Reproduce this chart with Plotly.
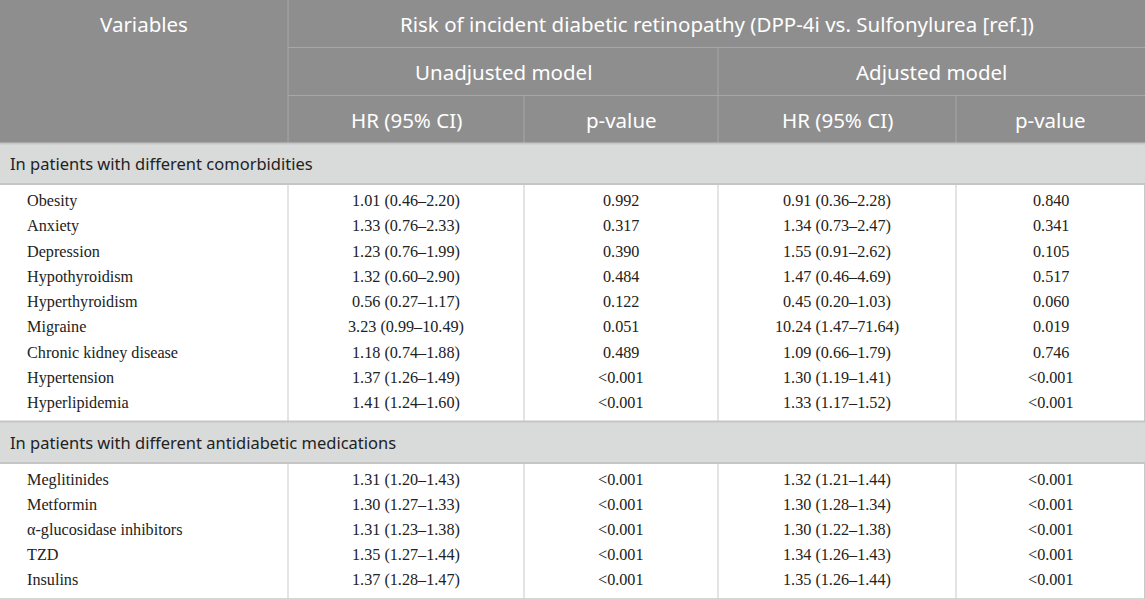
import plotly.graph_objects as go

# ---- table content ----
var_head = "Variables"
title_main = "Risk of incident diabetic retinopathy (DPP-4i vs. Sulfonylurea [ref.])"
models = ["Unadjusted model", "Adjusted model"]
col_heads = ["HR (95% CI)", "p-value", "HR (95% CI)", "p-value"]

sections = ["In patients with different comorbidities",
            "In patients with different antidiabetic medications"]

comorb = ["Obesity", "Anxiety", "Depression", "Hypothyroidism", "Hyperthyroidism",
          "Migraine", "Chronic kidney disease", "Hypertension", "Hyperlipidemia"]
comorb_hr_unadj = ["1.01 (0.46–2.20)", "1.33 (0.76–2.33)", "1.23 (0.76–1.99)",
                   "1.32 (0.60–2.90)", "0.56 (0.27–1.17)", "3.23 (0.99–10.49)",
                   "1.18 (0.74–1.88)", "1.37 (1.26–1.49)", "1.41 (1.24–1.60)"]
comorb_p_unadj = ["0.992", "0.317", "0.390", "0.484", "0.122", "0.051",
                  "0.489", "<0.001", "<0.001"]
comorb_hr_adj = ["0.91 (0.36–2.28)", "1.34 (0.73–2.47)", "1.55 (0.91–2.62)",
                 "1.47 (0.46–4.69)", "0.45 (0.20–1.03)", "10.24 (1.47–71.64)",
                 "1.09 (0.66–1.79)", "1.30 (1.19–1.41)", "1.33 (1.17–1.52)"]
comorb_p_adj = ["0.840", "0.341", "0.105", "0.517", "0.060", "0.019",
                "0.746", "<0.001", "<0.001"]

meds = ["Meglitinides", "Metformin", "α-glucosidase inhibitors", "TZD", "Insulins"]
meds_hr_unadj = ["1.31 (1.20–1.43)", "1.30 (1.27–1.33)", "1.31 (1.23–1.38)",
                 "1.35 (1.27–1.44)", "1.37 (1.28–1.47)"]
meds_p_unadj = ["<0.001", "<0.001", "<0.001", "<0.001", "<0.001"]
meds_hr_adj = ["1.32 (1.21–1.44)", "1.30 (1.28–1.34)", "1.30 (1.22–1.38)",
               "1.34 (1.26–1.43)", "1.35 (1.26–1.44)"]
meds_p_adj = ["<0.001", "<0.001", "<0.001", "<0.001", "<0.001"]

# ---- layout geometry (pixels) ----
W, H = 1145, 600
col_x = [0, 288, 524, 718, 956, 1145]
hdr_y = [0, 47.5, 95.5, 143.5]
blocks = [
    # section band top, band bottom, first row centre, row step, block bottom
    dict(top=143.5, band=184, first=201, step=25.25, bottom=421.5),
    dict(top=421.5, band=463, first=480, step=25.1, bottom=599),
]

HEAD_BG = "#8e8e8e"
HEAD_LINE = "#a7a7a7"
SEC_BG = "#d9dbda"
SEC_LINE = "#c5c5c5"
GRID = "#c9c9c9"
TXT = "#222222"

HF, HSIZE = "Noto Sans", 20.5   # header font
SF, SSIZE = "Noto Sans", 16.5   # section band font
DF, DSIZE = "Liberation Serif", 16.2  # body font

shapes = []
ann = []


def line(x0, y0, x1, y1, color, width=1):
    shapes.append(dict(type="line", x0=x0, y0=y0, x1=x1, y1=y1,
                       line=dict(color=color, width=width), layer="above"))


def text(x, y, s, font, size, color, anchor="center"):
    ann.append(dict(x=x, y=y, text=s, showarrow=False, xanchor=anchor,
                    yanchor="middle", font=dict(family=font, size=size, color=color)))


# header block
shapes.append(dict(type="rect", x0=0, y0=hdr_y[0], x1=W, y1=hdr_y[3],
                   fillcolor=HEAD_BG, line=dict(width=0), layer="below"))
line(col_x[1], hdr_y[0], col_x[1], hdr_y[3], HEAD_LINE)
line(col_x[1], hdr_y[1], W, hdr_y[1], HEAD_LINE)
line(col_x[1], hdr_y[2], W, hdr_y[2], HEAD_LINE)
line(col_x[3], hdr_y[1], col_x[3], hdr_y[3], HEAD_LINE)
for cx in (col_x[2], col_x[4]):
    line(cx, hdr_y[2], cx, hdr_y[3], HEAD_LINE)

row1 = (hdr_y[0] + hdr_y[1]) / 2
row2 = (hdr_y[1] + hdr_y[2]) / 2
row3 = (hdr_y[2] + hdr_y[3]) / 2
text(col_x[1] / 2, row1, var_head, HF, HSIZE, "white")
text((col_x[1] + W) / 2, row1, title_main, HF, HSIZE, "white")
text((col_x[1] + col_x[3]) / 2, row2, models[0], HF, HSIZE, "white")
text((col_x[3] + W) / 2, row2, models[1], HF, HSIZE, "white")
for i, h in enumerate(col_heads):
    text((col_x[i + 1] + col_x[i + 2]) / 2, row3, h, HF, HSIZE, "white")

# body blocks
body = [
    (sections[0], comorb, [comorb_hr_unadj, comorb_p_unadj, comorb_hr_adj, comorb_p_adj]),
    (sections[1], meds, [meds_hr_unadj, meds_p_unadj, meds_hr_adj, meds_p_adj]),
]
for blk, (sec, names, cols) in zip(blocks, body):
    shapes.append(dict(type="rect", x0=0, y0=blk["top"], x1=W, y1=blk["band"],
                       fillcolor=SEC_BG, line=dict(width=0), layer="below"))
    line(0, blk["top"], W, blk["top"], SEC_LINE, 2)
    line(0, blk["band"], W, blk["band"], SEC_LINE, 2)
    text(8, (blk["top"] + blk["band"]) / 2, sec, SF, SSIZE, TXT, anchor="left")
    for cx in col_x[1:5]:
        line(cx, blk["band"], cx, blk["bottom"], GRID)
    line(W - 0.5, blk["band"], W - 0.5, blk["bottom"], GRID)
    for r, name in enumerate(names):
        y = blk["first"] + r * blk["step"]
        text(25, y, name, DF, DSIZE, TXT, anchor="left")
        for c, vals in enumerate(cols):
            text((col_x[c + 1] + col_x[c + 2]) / 2, y, vals[r], DF, DSIZE, TXT)

line(0, blocks[-1]["bottom"], W, blocks[-1]["bottom"], GRID, 1.5)

fig = go.Figure()
fig.update_layout(
    width=W, height=H,
    margin=dict(l=0, r=0, t=0, b=0),
    paper_bgcolor="white", plot_bgcolor="white",
    shapes=shapes, annotations=ann, showlegend=False,
    xaxis=dict(range=[0, W], visible=False, fixedrange=True),
    yaxis=dict(range=[H, 0], visible=False, fixedrange=True),
)
fig.write_html("out.html", config=dict(displayModeBar=False),
               post_script="document.body.style.margin='0';")
